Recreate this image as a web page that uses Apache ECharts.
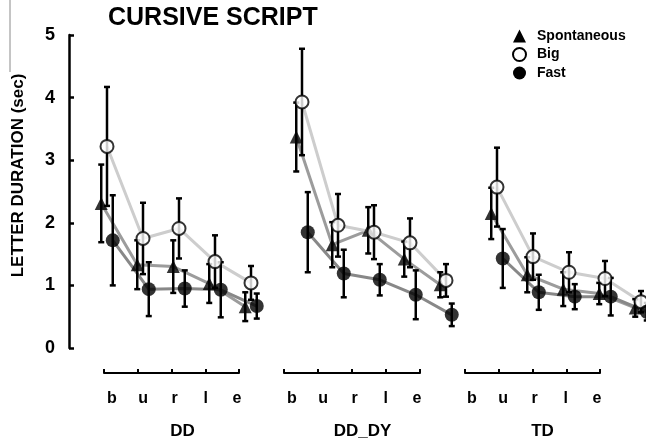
<!DOCTYPE html>
<html>
<head>
<meta charset="utf-8">
<script src="https://cdn.jsdelivr.net/npm/echarts@6/dist/echarts.min.js"></script>
<style>html,body{margin:0;padding:0;background:#fff;}#c{width:646px;height:444px;}</style>
</head>
<body>
<div id="c"></div>
<script>
// ---- data ----
const categories = ['b', 'u', 'r', 'l', 'e'];
const groups = ['DD', 'DD_DY', 'TD'];
const yTicks = [0, 1, 2, 3, 4, 5];
const conditions = ['Spontaneous', 'Big', 'Fast'];

// means per group (DD, DD_DY, TD), letter order b,u,r,l,e
const spontaneousMean = [[2.31, 1.33, 1.30, 1.03, 0.66], [3.37, 1.65, 1.88, 1.42, 1.01], [2.15, 1.17, 0.94, 0.87, 0.64]];
const spontaneousErr  = [[0.62, 0.39, 0.42, 0.31, 0.23], [0.55, 0.36, 0.37, 0.28, 0.20], [0.41, 0.28, 0.27, 0.17, 0.14]];
const bigMean = [[3.22, 1.75, 1.91, 1.38, 1.04], [3.93, 1.96, 1.85, 1.68, 1.08], [2.57, 1.46, 1.21, 1.11, 0.74]];
const bigErr  = [[0.95, 0.57, 0.48, 0.42, 0.27], [0.85, 0.50, 0.43, 0.39, 0.26], [0.63, 0.37, 0.32, 0.28, 0.17]];
const fastMean = [[1.72, 0.94, 0.95, 0.93, 0.67], [1.85, 1.19, 1.09, 0.85, 0.53], [1.43, 0.89, 0.82, 0.82, 0.58]];
const fastErr  = [[0.72, 0.43, 0.29, 0.44, 0.20], [0.64, 0.38, 0.25, 0.39, 0.18], [0.47, 0.28, 0.20, 0.30, 0.14]];

// ---- layout / style ----
const FONT = 'Liberation Sans, Arial, Helvetica, sans-serif';
const PX_PER_CAT = 36;
const dataLefts = [89, 284, 479];
const dataWidths = [180, 180, 167];
const tickLefts = [104, 284, 465];
const tickWidths = [135, 136, 135];
const labelLefts = [112, 292, 472];
const condMeans = [spontaneousMean, bigMean, fastMean];
const condErrs = [spontaneousErr, bigErr, fastErr];
const condOffset = [-0.16, 0, 0.16];
const condSymbol = ['triangle', 'circle', 'circle'];
const condSymbolSize = [13, 13, 14];
const condItemStyle = [
  {color: '#000'},
  {color: '#fff', borderColor: '#000', borderWidth: 2},
  {color: '#000'}
];
const condLineColor = ['#9c9c9c', '#cdcdcd', '#888888'];

const grids = [], xAxes = [], yAxes = [], series = [];
for (let p = 0; p < 3; p++) {
  grids.push({left: dataLefts[p], width: dataWidths[p], top: 35, bottom: 96});
}
for (let p = 0; p < 3; p++) {
  grids.push({left: tickLefts[p], width: tickWidths[p], top: 355, bottom: 71});
}
for (let p = 0; p < 3; p++) {
  grids.push({left: labelLefts[p], width: 125, top: 355, bottom: 71});
}
// data x axes (hidden value axes)
for (let p = 0; p < 3; p++) {
  xAxes.push({type: 'value', gridIndex: p, min: -0.5, max: -0.5 + dataWidths[p] / PX_PER_CAT, show: false});
}
// tick axes
for (let p = 0; p < 3; p++) {
  xAxes.push({
    type: 'category', gridIndex: 3 + p, data: categories, boundaryGap: false,
    axisLine: {show: true, lineStyle: {color: '#000', width: 2}},
    axisTick: {show: true, inside: true, length: 4, lineStyle: {color: '#000', width: 2}},
    axisLabel: {show: false}, splitLine: {show: false}
  });
}
// label axes
for (let p = 0; p < 3; p++) {
  xAxes.push({
    type: 'category', gridIndex: 6 + p, data: categories, boundaryGap: false,
    axisLine: {show: false}, axisTick: {show: false}, splitLine: {show: false},
    axisLabel: {show: true, margin: 18, color: '#000', fontWeight: 'bold', fontSize: 16, fontFamily: FONT},
    name: groups[p], nameLocation: 'middle', nameGap: 50,
    nameTextStyle: {color: '#000', fontWeight: 'bold', fontSize: 17, fontFamily: FONT, padding: [0, 0, 0, 16]}
  });
}
// y axes
for (let g = 0; g < 9; g++) {
  if (g === 0) {
    yAxes.push({
      type: 'value', gridIndex: 0, min: yTicks[0], max: yTicks[yTicks.length - 1], interval: 1, offset: 20,
      axisLine: {show: true, onZero: false, lineStyle: {color: '#000', width: 2.5}},
      axisTick: {show: true, inside: true, length: 5, lineStyle: {color: '#000', width: 2.5}},
      axisLabel: {color: '#000', fontWeight: 'bold', fontSize: 18, fontFamily: FONT, margin: 14},
      splitLine: {show: false},
      name: 'LETTER DURATION (sec)', nameLocation: 'middle', nameGap: 42,
      nameTextStyle: {color: '#000', fontWeight: 'bold', fontSize: 17, fontFamily: FONT, padding: [0, 0, 0, 32]}
    });
  } else {
    yAxes.push({type: 'value', gridIndex: g, min: 0, max: 5, show: false});
  }
}

function renderErr(params, api) {
  const x = api.value(0), lo = api.value(1), hi = api.value(2);
  const a = api.coord([x, lo]), b = api.coord([x, hi]);
  const cap = 3;
  const style = {stroke: '#000', lineWidth: 2.5};
  return {type: 'group', children: [
    {type: 'line', shape: {x1: a[0], y1: a[1], x2: b[0], y2: b[1]}, style: style},
    {type: 'line', shape: {x1: a[0] - cap, y1: a[1], x2: a[0] + cap, y2: a[1]}, style: style},
    {type: 'line', shape: {x1: b[0] - cap, y1: b[1], x2: b[0] + cap, y2: b[1]}, style: style}
  ]};
}

for (let p = 0; p < 3; p++) {
  for (let c = 0; c < 3; c++) {
    const pts = condMeans[c][p].map((v, i) => [i + condOffset[c], v]);
    series.push({
      type: 'line', name: conditions[c], xAxisIndex: p, yAxisIndex: p, data: pts,
      symbol: 'none', clip: false, silent: true, z: 1,
      lineStyle: {color: condLineColor[c], width: 3}
    });
    series.push({
      type: 'custom', name: conditions[c], xAxisIndex: p, yAxisIndex: p, clip: false, silent: true, z: 2,
      data: condMeans[c][p].map((v, i) => [i + condOffset[c], v - condErrs[c][p][i], v + condErrs[c][p][i]]),
      encode: {x: 0, y: [1, 2]},
      renderItem: renderErr
    });
  }
  for (let c = 0; c < 3; c++) {
    const pts = condMeans[c][p].map((v, i) => [i + condOffset[c], v]);
    series.push({
      type: 'scatter', name: conditions[c], xAxisIndex: p, yAxisIndex: p, data: pts,
      symbol: condSymbol[c], symbolSize: condSymbolSize[c], clip: false, silent: true, z: 3,
      itemStyle: condItemStyle[c]
    });
  }
}

const chart = echarts.init(document.getElementById('c'), null, {renderer: 'canvas'});
chart.setOption({
  backgroundColor: '#fff',
  animation: false,
  title: {
    text: 'CURSIVE SCRIPT', left: 103, top: 1,
    textStyle: {color: '#000', fontWeight: 'bold', fontSize: 25, fontFamily: FONT}
  },
  legend: {
    orient: 'vertical', left: 507, top: 24, itemWidth: 13, itemHeight: 13, itemGap: 4,
    selectedMode: false,
    textStyle: {color: '#000', fontWeight: 'bold', fontSize: 14, lineHeight: 14, fontFamily: FONT, padding: [0, 0, 0, 6]},
    data: conditions.map((n, c) => ({name: n, icon: condSymbol[c], itemStyle: condItemStyle[c]}))
  },
  graphic: [{
    type: 'line', shape: {x1: 10, y1: 0, x2: 10, y2: 72}, style: {stroke: '#8a8a8a', lineWidth: 1}, silent: true
  }],
  grid: grids,
  xAxis: xAxes,
  yAxis: yAxes,
  series: series
});
</script>
</body>
</html>
